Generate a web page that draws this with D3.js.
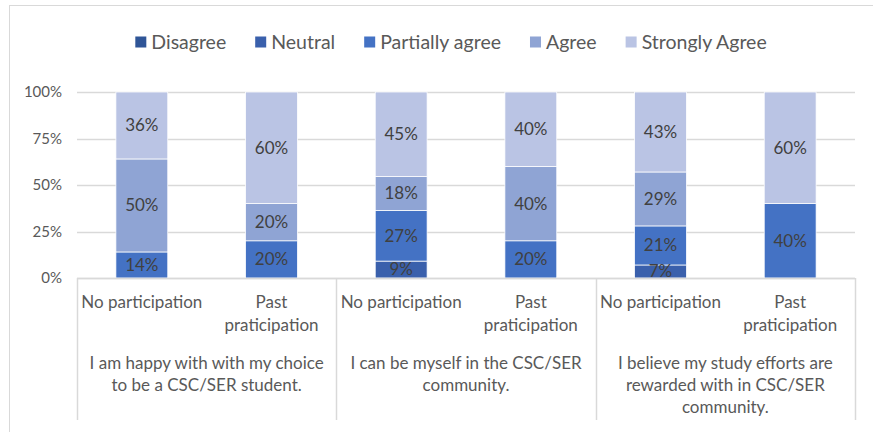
<!DOCTYPE html>
<html>
<head>
<meta charset="utf-8">
<script src="https://cdn.jsdelivr.net/npm/d3@7"></script>
<style>
  body { margin: 0; background: #fff; }
  text { font-family: Lato, "Open Sans", sans-serif; fill: #595959; }
</style>
</head>
<body>
<script>
// series (bottom to top of each bar)
const seriesNames = ["Disagree", "Neutral", "Partially agree", "Agree", "Strongly Agree"];
const seriesColors = ["#2f5597", "#3a60ac", "#4472c4", "#8fa4d4", "#bac4e4"];

// questions (outer categories), with their wrapped label lines
const questions = ["Q1", "Q2", "Q3"];
const questionLines = [
    ["I am happy with with my choice", "to be a CSC/SER student."],
    ["I can be myself in the CSC/SER", "community."],
    ["I believe my study efforts are", "rewarded with in CSC/SER", "community."]
];
// inner categories
const groups = ["No participation", "Past praticipation"];
const groupLines = [["No participation"], ["Past", "praticipation"]];

// percent values per question, per group: [Disagree, Neutral, Partially, Agree, Strongly]
const q1NoPart   = [0, 0, 14, 50, 36];
const q1PastPart = [0, 0, 20, 20, 60];
const q2NoPart   = [0, 9, 27, 18, 45];
const q2PastPart = [0, 0, 20, 40, 40];
const q3NoPart   = [0, 7, 21, 29, 43];
const q3PastPart = [0, 0, 40, 0, 60];
const values = [[q1NoPart, q1PastPart], [q2NoPart, q2PastPart], [q3NoPart, q3PastPart]];

const yTicks = [0, 0.25, 0.5, 0.75, 1];

const width = 873, height = 432;
const plot = {left: 77, right: 855, top: 92, bottom: 278};

const svg = d3.select("body").append("svg")
    .attr("width", width)
    .attr("height", height);

// outer chart border (cropped on the right and bottom in the original)
svg.append("rect")
    .attr("x", 9.5).attr("y", 5.5)
    .attr("width", width + 10).attr("height", height + 10)
    .attr("fill", "none")
    .attr("stroke", "#d9d9d9");

// rows for the stack
const rows = [];
questions.forEach(function(q, qi) {
    groups.forEach(function(g, gi) {
        const row = {q: q, g: g, qi: qi, gi: gi};
        seriesNames.forEach(function(s, si) { row[s] = values[qi][gi][si]; });
        rows.push(row);
    });
});

const x0 = d3.scaleBand().domain(questions).range([plot.left, plot.right]).padding(0);
const x1 = d3.scaleBand().domain(groups).range([0, x0.bandwidth()]).paddingInner(0.6).paddingOuter(0.3);
const y = d3.scaleLinear().domain([0, 1]).range([plot.bottom, plot.top]);
const color = d3.scaleOrdinal().domain(seriesNames).range(seriesColors);

// gridlines
svg.append("g")
    .selectAll("line")
    .data(yTicks)
    .join("line")
      .attr("x1", plot.left).attr("x2", plot.right)
      .attr("y1", d => Math.round(y(d)) + 0.5).attr("y2", d => Math.round(y(d)) + 0.5)
      .attr("stroke", "#d9d9d9")
      .attr("stroke-width", 1.5);

// y axis labels
const yAxis = svg.append("g")
    .attr("transform", `translate(${plot.left},0)`)
    .call(d3.axisLeft(y).tickValues(yTicks).tickFormat(d3.format(".0%")).tickSize(0).tickPadding(15));
yAxis.select(".domain").remove();
yAxis.selectAll("text")
    .style("font-family", "Lato, sans-serif")
    .style("font-size", "15px")
    .attr("fill", "#595959");

// stacked bars, normalised to 100%
const stack = d3.stack().keys(seriesNames).offset(d3.stackOffsetExpand);
const stacked = stack(rows);

const layers = svg.append("g")
    .selectAll("g")
    .data(stacked)
    .join("g")
      .attr("fill", d => color(d.key));

layers.selectAll("rect")
    .data(d => d.filter(s => s[1] - s[0] > 0))
    .join("rect")
      .attr("x", d => x0(d.data.q) + x1(d.data.g))
      .attr("width", x1.bandwidth())
      .attr("y", d => y(d[1]))
      .attr("height", d => y(d[0]) - y(d[1]))
      .attr("stroke", "#fff")
      .attr("stroke-width", 0.75);

// data labels
stacked.forEach(function(layer) {
    layer.filter(s => s[1] - s[0] > 0).forEach(function(s) {
        svg.append("text")
            .attr("x", x0(s.data.q) + x1(s.data.g) + x1.bandwidth() / 2)
            .attr("y", (y(s[0]) + y(s[1])) / 2)
            .attr("dy", "0.35em")
            .attr("text-anchor", "middle")
            .style("font-size", "17px")
            .style("fill", "#404040")
            .text(s.data[layer.key] + "%");
    });
});

// category axis: baseline and separators
svg.append("line")
    .attr("x1", plot.left).attr("x2", plot.right)
    .attr("y1", plot.bottom + 0.5).attr("y2", plot.bottom + 0.5)
    .attr("stroke", "#d9d9d9").attr("stroke-width", 1.5);

const seps = questions.map(q => x0(q)).concat([plot.right]);
svg.append("g")
    .selectAll("line")
    .data(seps)
    .join("line")
      .attr("x1", d => Math.round(d) + 0.5).attr("x2", d => Math.round(d) + 0.5)
      .attr("y1", plot.bottom).attr("y2", 420)
      .attr("stroke", "#d9d9d9").attr("stroke-width", 1.5);

// inner labels
questions.forEach(function(q) {
    groups.forEach(function(g, gi) {
        const t = svg.append("text")
            .attr("text-anchor", "middle")
            .style("font-size", "17px");
        groupLines[gi].forEach(function(line, li) {
            t.append("tspan")
                .attr("x", x0(q) + x1(g) + x1.bandwidth() / 2)
                .attr("y", 302 + li * 23)
                .attr("dy", "0.35em")
                .text(line);
        });
    });
});

// outer labels
questions.forEach(function(q, qi) {
    const t = svg.append("text")
        .attr("text-anchor", "middle")
        .style("font-size", "17px");
    questionLines[qi].forEach(function(line, li) {
        t.append("tspan")
            .attr("x", x0(q) + x0.bandwidth() / 2)
            .attr("y", 363 + li * 22)
            .attr("dy", "0.35em")
            .text(line);
    });
});

// legend
const legend = svg.append("g");
const items = legend.selectAll("g")
    .data(seriesNames)
    .join("g");
items.append("rect")
    .attr("width", 11).attr("height", 11)
    .attr("y", 36.5)
    .attr("fill", d => color(d));
items.append("text")
    .attr("x", 16)
    .attr("y", 42)
    .attr("dy", "0.35em")
    .style("font-size", "19.5px")
    .text(d => d);

let pos = 0;
items.each(function() {
    const w = d3.select(this).select("text").node().getComputedTextLength();
    d3.select(this).attr("transform", `translate(${pos},0)`);
    pos += 16 + w + 29;
});
const total = pos - 29;
legend.attr("transform", `translate(${451 - total / 2},0)`);
</script>
</body>
</html>
